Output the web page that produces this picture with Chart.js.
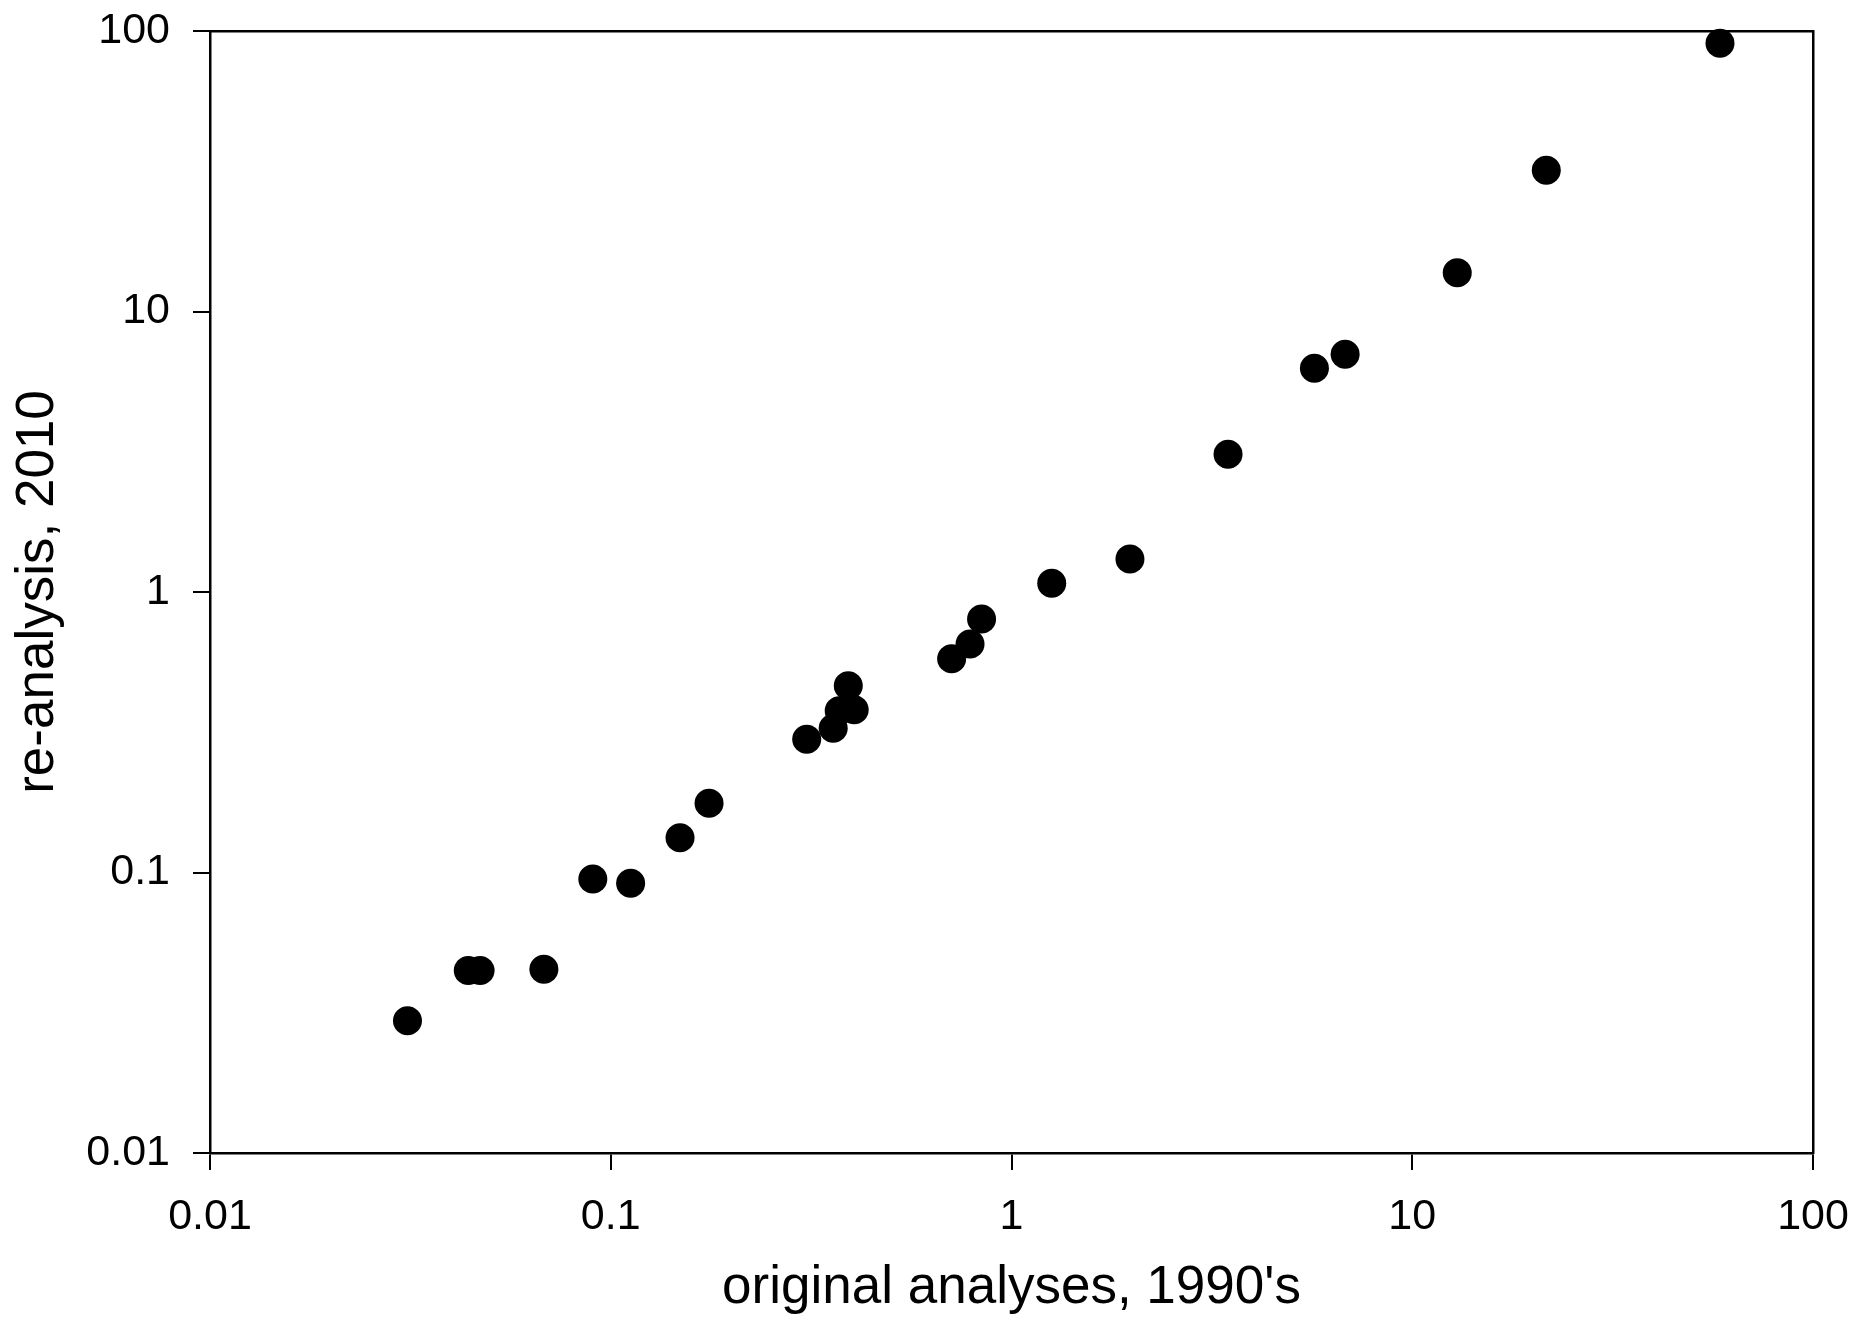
<!DOCTYPE html>
<html>
<head>
<meta charset="utf-8">
<title>re-analysis vs original analyses</title>
<script src="https://cdn.jsdelivr.net/npm/chart.js@4"></script>
<style>
  html, body { margin: 0; padding: 0; background: #fff; }
  #wrap { width: 1857px; height: 1323px; }
</style>
</head>
<body>
<div id="wrap"><canvas id="scatterChart"></canvas></div>
<script>
// valores
const originalValues = [58.6, 21.6, 12.95, 6.8, 5.7, 3.47, 1.975, 1.26, 0.842, 0.788, 0.709,
    0.3915, 0.405, 0.3716, 0.359, 0.3083, 0.1759, 0.1489, 0.1121, 0.0902, 0.0681, 0.0441, 0.0472, 0.0311];
const reanalysisValues = [90.4, 31.9, 13.75, 7.04, 6.27, 3.1, 1.31, 1.074, 0.801, 0.653, 0.578,
    0.4634, 0.38, 0.3775, 0.3266, 0.2985, 0.1765, 0.133, 0.0915, 0.0948, 0.0452, 0.0447, 0.0447, 0.0296];
const tickValues = [0.01, 0.1, 1, 10, 100];
const xTitle = "original analyses, 1990's";
const yTitle = 're-analysis, 2010';

const points = originalValues.map((x, i) => ({ x: x, y: reanalysisValues[i] }));

const FONT = "'Liberation Sans', Arial, sans-serif";
const fixedTicks = (scale) => {
    scale.ticks = tickValues.map(v => ({ value: v, major: true }));
};
// sin relleno automático: el área del gráfico la fija layout.padding
const noPad = (s) => {
    s.paddingTop = 0; s.paddingBottom = 0; s.paddingLeft = 0; s.paddingRight = 0;
};

const ctx = document.getElementById('scatterChart').getContext('2d');
new Chart(ctx, {
    type: 'scatter',
    data: {
        datasets: [{
            data: points,
            backgroundColor: '#000',
            borderWidth: 0,
            pointRadius: 14.5,
            pointHoverRadius: 14.5,
            clip: false
        }]
    },
    options: {
        responsive: true,
        maintainAspectRatio: false,
        animation: false,
        layout: { padding: { top: 31, right: 44, left: 0, bottom: 0 } },
        plugins: {
            legend: { display: false },
            tooltip: { enabled: false }
        },
        scales: {
            x: {
                type: 'logarithmic',
                position: 'bottom',
                min: 0.01,
                max: 100,
                afterBuildTicks: fixedTicks,
                afterFit: (s) => { s.height = 170; noPad(s); },
                border: { display: true, color: '#000', width: 2.5 },
                grid: { display: true, drawOnChartArea: false, drawTicks: true, tickLength: 17, color: '#000', lineWidth: 2 },
                ticks: {
                    color: '#000',
                    padding: 21,
                    maxRotation: 0,
                    font: { family: FONT, size: 43 },
                    callback: (v) => String(v)
                },
                title: {
                    display: true,
                    text: xTitle,
                    color: '#000',
                    padding: { top: 0, bottom: 3 },
                    font: { family: FONT, size: 53 }
                }
            },
            y: {
                type: 'logarithmic',
                position: 'left',
                min: 0.01,
                max: 100,
                afterBuildTicks: fixedTicks,
                afterFit: (s) => { s.width = 210; noPad(s); },
                border: { display: true, color: '#000', width: 2.5 },
                grid: { display: true, drawOnChartArea: false, drawTicks: true, tickLength: 17, color: '#000', lineWidth: 2 },
                ticks: {
                    color: '#000',
                    padding: 23,
                    font: { family: FONT, size: 43 },
                    callback: (v) => String(v)
                },
                title: {
                    display: true,
                    text: yTitle,
                    color: '#000',
                    padding: { top: 7, bottom: 0 },
                    font: { family: FONT, size: 53 }
                }
            },
            xTop: {
                type: 'linear',
                position: 'top',
                min: 0, max: 1,
                afterFit: (s) => { s.height = 0; noPad(s); },
                border: { display: true, color: '#000', width: 2.5 },
                grid: { display: false, drawTicks: false },
                ticks: { display: false }
            },
            yRight: {
                type: 'linear',
                position: 'right',
                min: 0, max: 1,
                afterFit: (s) => { s.width = 0; noPad(s); },
                border: { display: true, color: '#000', width: 2.5 },
                grid: { display: false, drawTicks: false },
                ticks: { display: false }
            }
        }
    }
});
</script>
</body>
</html>
